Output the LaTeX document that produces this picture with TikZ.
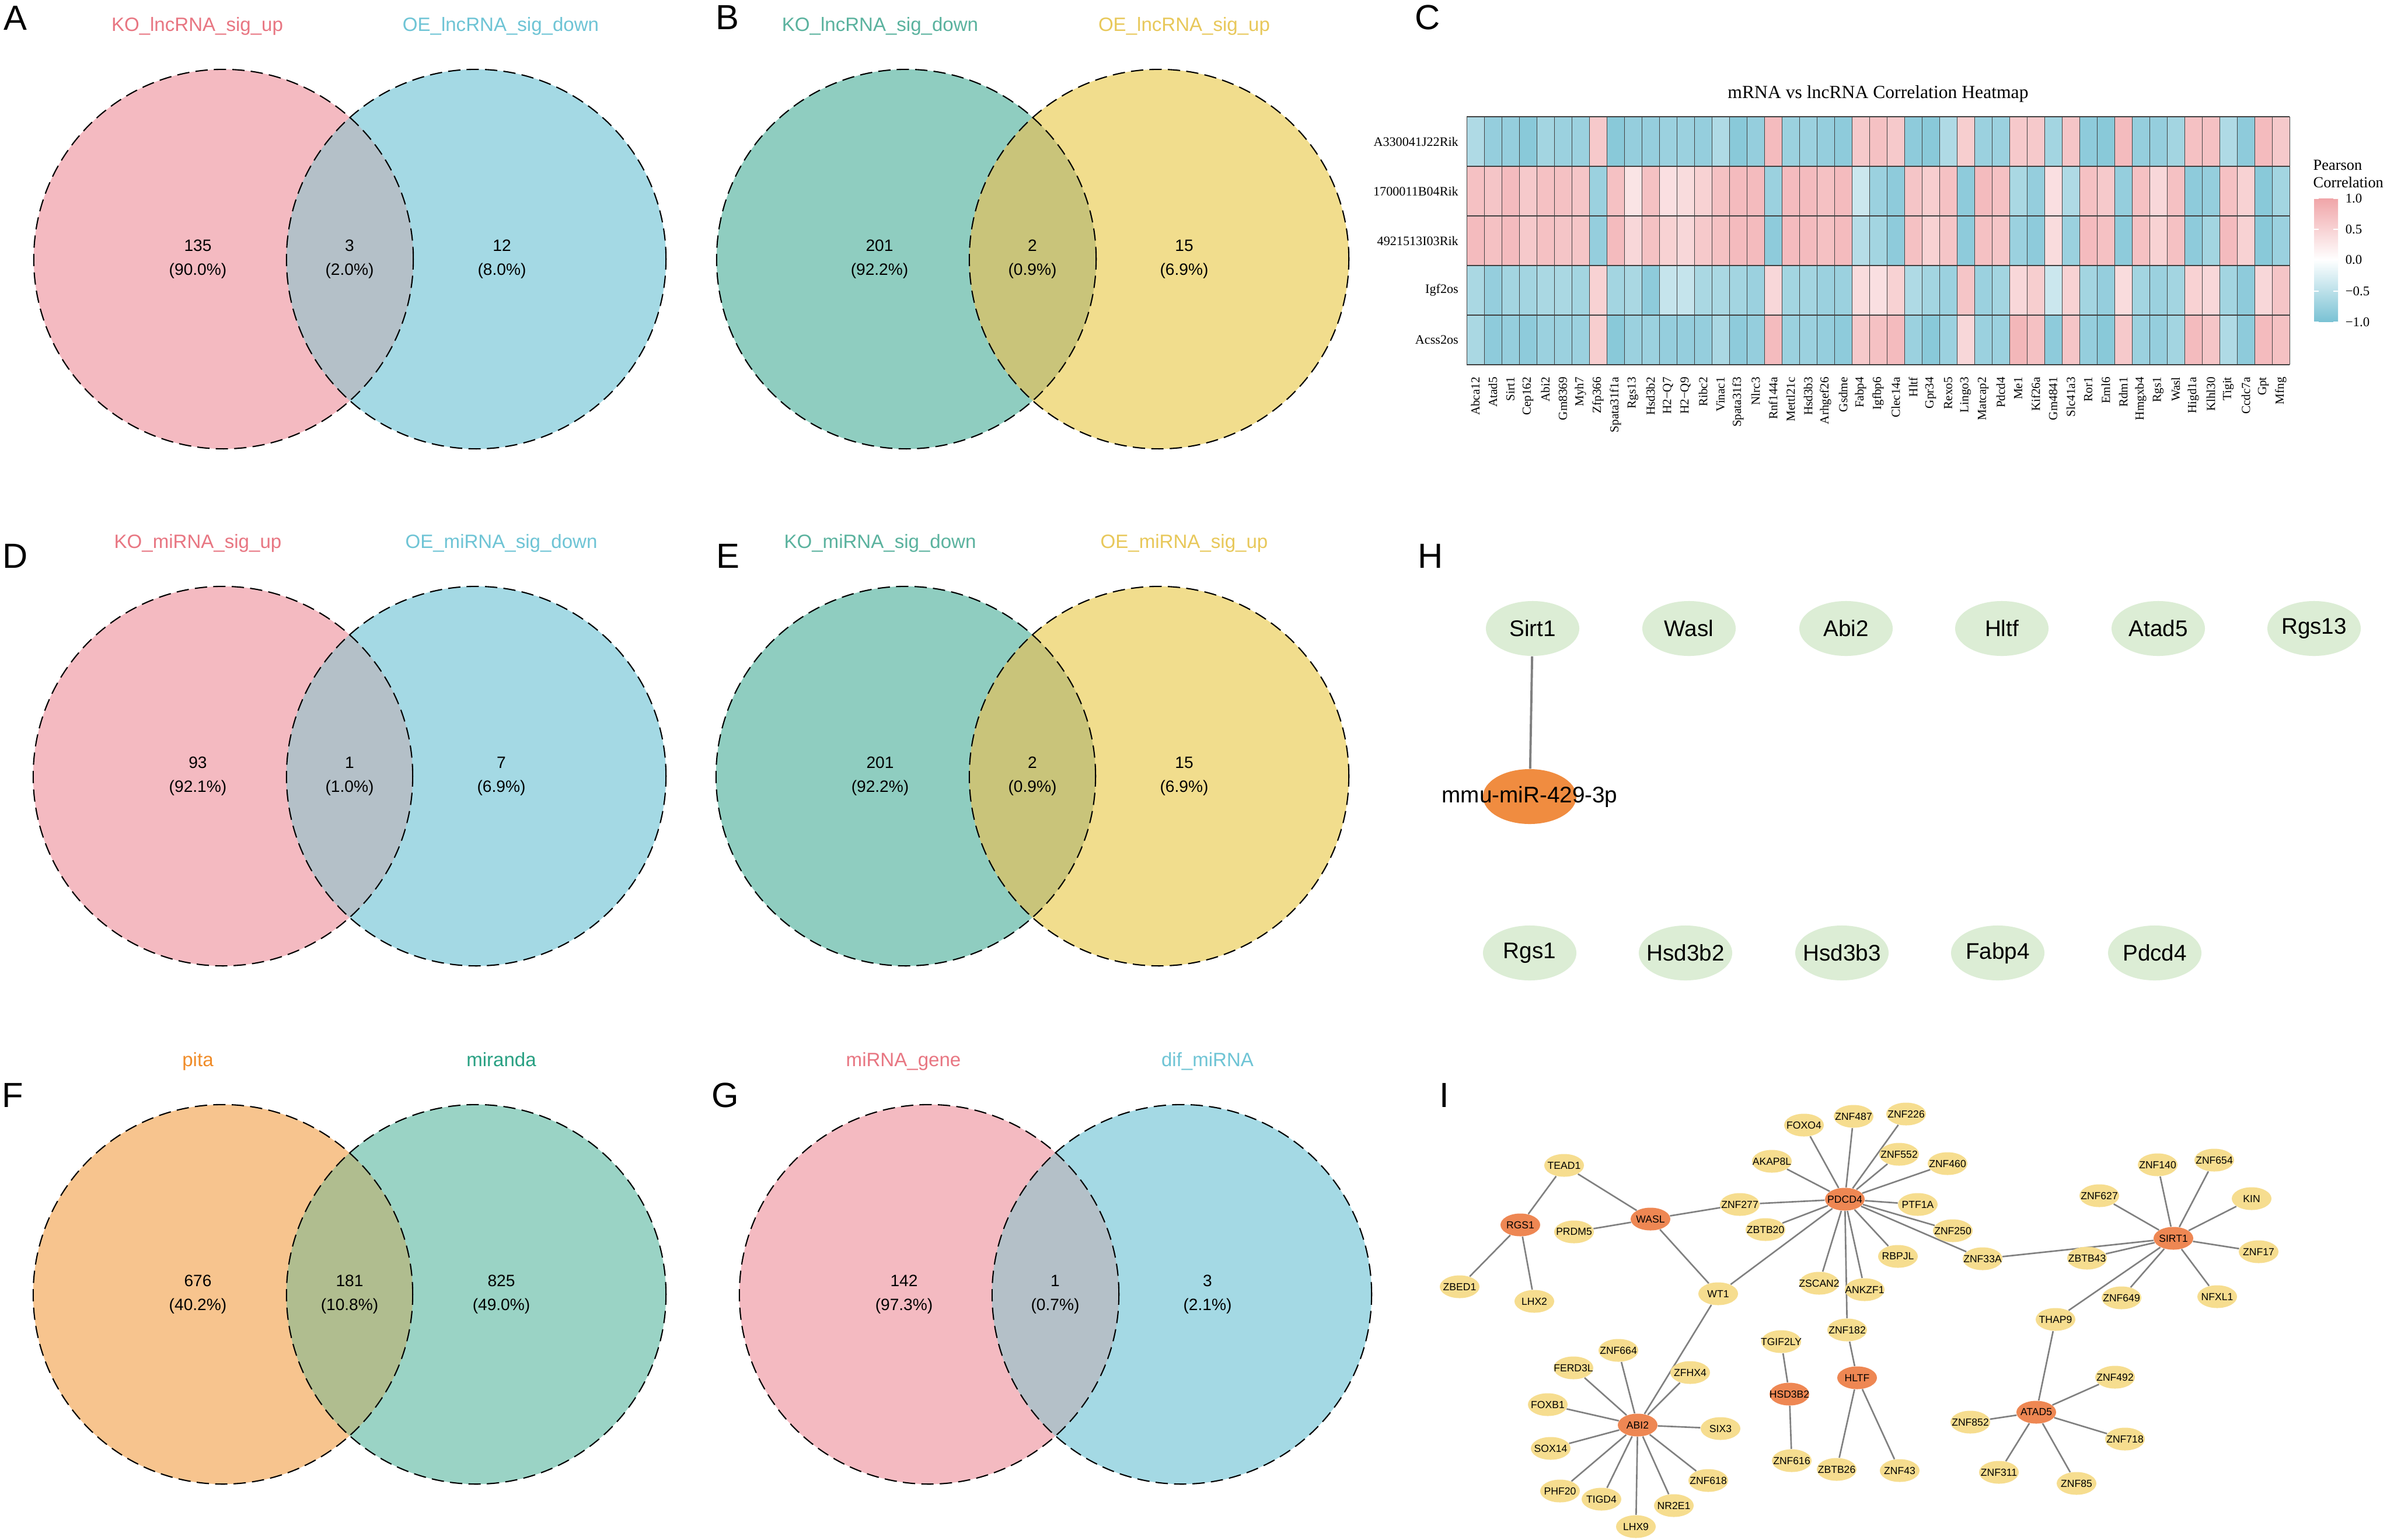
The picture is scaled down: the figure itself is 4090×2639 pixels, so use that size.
\documentclass[tikz,border=0pt]{standalone}
\usepackage{fontspec}
\setmainfont{Liberation Sans}
\newfontfamily\heatfont{Liberation Serif}
\usetikzlibrary{shapes.geometric, positioning}

% Venn 颜色
\definecolor{vpink}{RGB}{244,186,193}
\definecolor{vblue}{RGB}{164,217,228}
\definecolor{vgrey}{RGB}{180,192,200}
\definecolor{vteal}{RGB}{143,205,192}
\definecolor{vyel}{RGB}{241,221,141}
\definecolor{volive}{RGB}{201,196,122}
\definecolor{vorange}{RGB}{247,196,142}
\definecolor{vmint}{RGB}{154,211,197}
\definecolor{vsage}{RGB}{176,189,143}
\definecolor{lpink}{RGB}{232,118,130}
\definecolor{lblue}{RGB}{110,196,213}
\definecolor{lteal}{RGB}{90,178,158}
\definecolor{lyel}{RGB}{232,200,90}
\definecolor{lorange}{RGB}{240,140,40}
\definecolor{lmint}{RGB}{40,160,130}
% 热图颜色
\definecolor{hpos}{RGB}{240,165,168}
\definecolor{hneg}{RGB}{122,194,212}
% 网络颜色
\definecolor{hgreen}{RGB}{220,237,213}
\definecolor{horange}{RGB}{240,140,64}
\definecolor{iyellow}{RGB}{246,221,143}
\definecolor{iorange}{RGB}{238,135,83}
\definecolor{iedgecol}{RGB}{128,128,128}

\pgfdeclarelayer{background}
\pgfdeclarelayer{paper}
\pgfsetlayers{paper,background,main}

\begin{document}
\begin{tikzpicture}[
    x=0.01cm, y=-0.01cm,
    % 定义样式
    panel/.style={font=\fontsize{17}{20}\selectfont},
    setlab/.style={anchor=base, font=\fontsize{9.4}{11}\selectfont},
    vnum/.style={align=center, font=\fontsize{8}{11.7}\selectfont},
    vline/.style={draw=black, line width=0.6pt, dash pattern=on 6pt off 3pt},
    htitle/.style={font=\heatfont\fontsize{9}{11}\selectfont},
    rowlab/.style={anchor=east, font=\heatfont\fontsize{6.3}{7}\selectfont, inner sep=1pt},
    collab/.style={anchor=east, rotate=90, font=\heatfont\fontsize{6}{7}\selectfont, inner sep=1pt},
    legtitle/.style={anchor=north west, align=left, inner sep=0pt, font=\heatfont\fontsize{7.5}{8.3}\selectfont},
    ticklab/.style={anchor=west, inner sep=0pt, font=\heatfont\fontsize{6.5}{7}\selectfont},
    cellline/.style={draw=black!75, line width=0.3pt},
    rowline/.style={draw=black!75, line width=0.6pt},
    zerobox/.style={execute at begin node={\hbox to 0pt\bgroup\hss}, execute at end node={\hss\egroup}},
    hgene/.style={ellipse, fill=hgreen, minimum width=1.6cm, minimum height=0.94cm, inner sep=0pt, zerobox, font=\fontsize{11}{13}\selectfont},
    hmir/.style={ellipse, fill=horange, minimum width=1.6cm, minimum height=0.94cm, inner sep=0pt},
    hedge/.style={draw=iedgecol, line width=1.1pt},
    inode/.style={ellipse, fill=iyellow, minimum width=0.68cm, minimum height=0.39cm, inner sep=0pt, zerobox, font=\fontsize{5}{6}\selectfont},
    ihub/.style={inode, fill=iorange},
    iedge/.style={draw=iedgecol, line width=0.75pt}
]

\begin{pgfonlayer}{paper}
\fill [white] (0,0) rectangle (4090,2639);
\end{pgfonlayer}
\useasboundingbox (0,0) rectangle (4090,2639);

% --- A: lncRNA, KO 上调 / OE 下调 ---
\node [panel] (A) at (26,31) {A};
\fill [vpink] (383,444) circle [radius=3.25cm];
\fill [vblue] (816,444) circle [radius=3.25cm];
\begin{scope}
  \clip (383,444) circle [radius=3.25cm];
  \fill [vgrey] (816,444) circle [radius=3.25cm];
\end{scope}
\draw [vline] (383,444) circle [radius=3.25cm] (816,444) circle [radius=3.25cm];
\node [setlab, text=lpink] (A_left) at (338,53) {KO\_lncRNA\_sig\_up};
\node [setlab, text=lblue] (A_right) at (858,53) {OE\_lncRNA\_sig\_down};
\node [vnum] (A_n1) at (339,444) {135\\(90.0\%)};
\node [vnum] (A_n2) at (599,444) {3\\(2.0\%)};
\node [vnum] (A_n3) at (860,444) {12\\(8.0\%)};

% --- B: lncRNA, KO 下调 / OE 上调 ---
\node [panel] (B) at (1246,30) {B};
\fill [vteal] (1553,444) circle [radius=3.25cm];
\fill [vyel] (1986,444) circle [radius=3.25cm];
\begin{scope}
  \clip (1553,444) circle [radius=3.25cm];
  \fill [volive] (1986,444) circle [radius=3.25cm];
\end{scope}
\draw [vline] (1553,444) circle [radius=3.25cm] (1986,444) circle [radius=3.25cm];
\node [setlab, text=lteal] (B_left) at (1508,53) {KO\_lncRNA\_sig\_down};
\node [setlab, text=lyel] (B_right) at (2029,53) {OE\_lncRNA\_sig\_up};
\node [vnum] (B_n1) at (1507,444) {201\\(92.2\%)};
\node [vnum] (B_n2) at (1769,444) {2\\(0.9\%)};
\node [vnum] (B_n3) at (2029,444) {15\\(6.9\%)};

% --- D: miRNA, KO 上调 / OE 下调 ---
\node [panel] (D) at (26,953) {D};
\fill [vpink] (382,1330) circle [radius=3.25cm];
\fill [vblue] (816,1330) circle [radius=3.25cm];
\begin{scope}
  \clip (382,1330) circle [radius=3.25cm];
  \fill [vgrey] (816,1330) circle [radius=3.25cm];
\end{scope}
\draw [vline] (382,1330) circle [radius=3.25cm] (816,1330) circle [radius=3.25cm];
\node [setlab, text=lpink] (D_left) at (339,939) {KO\_miRNA\_sig\_up};
\node [setlab, text=lblue] (D_right) at (859,939) {OE\_miRNA\_sig\_down};
\node [vnum] (D_n1) at (339,1330) {93\\(92.1\%)};
\node [vnum] (D_n2) at (599,1330) {1\\(1.0\%)};
\node [vnum] (D_n3) at (859,1330) {7\\(6.9\%)};

% --- E: miRNA, KO 下调 / OE 上调 ---
\node [panel] (E) at (1247,953) {E};
\fill [vteal] (1552,1330) circle [radius=3.25cm];
\fill [vyel] (1986,1330) circle [radius=3.25cm];
\begin{scope}
  \clip (1552,1330) circle [radius=3.25cm];
  \fill [volive] (1986,1330) circle [radius=3.25cm];
\end{scope}
\draw [vline] (1552,1330) circle [radius=3.25cm] (1986,1330) circle [radius=3.25cm];
\node [setlab, text=lteal] (E_left) at (1508,939) {KO\_miRNA\_sig\_down};
\node [setlab, text=lyel] (E_right) at (2029,939) {OE\_miRNA\_sig\_up};
\node [vnum] (E_n1) at (1508,1330) {201\\(92.2\%)};
\node [vnum] (E_n2) at (1769,1330) {2\\(0.9\%)};
\node [vnum] (E_n3) at (2029,1330) {15\\(6.9\%)};

% --- F: pita / miranda ---
\node [panel] (F) at (22,1877) {F};
\fill [vorange] (382,2218) circle [radius=3.25cm];
\fill [vmint] (816,2218) circle [radius=3.25cm];
\begin{scope}
  \clip (382,2218) circle [radius=3.25cm];
  \fill [vsage] (816,2218) circle [radius=3.25cm];
\end{scope}
\draw [vline] (382,2218) circle [radius=3.25cm] (816,2218) circle [radius=3.25cm];
\node [setlab, text=lorange] (F_left) at (339,1827) {pita};
\node [setlab, text=lmint] (F_right) at (859,1827) {miranda};
\node [vnum] (F_n1) at (339,2218) {676\\(40.2\%)};
\node [vnum] (F_n2) at (599,2218) {181\\(10.8\%)};
\node [vnum] (F_n3) at (859,2218) {825\\(49.0\%)};

% --- G: miRNA_gene / dif_miRNA ---
\node [panel] (G) at (1243,1877) {G};
\fill [vpink] (1592,2218) circle [radius=3.25cm];
\fill [vblue] (2025,2218) circle [radius=3.25cm];
\begin{scope}
  \clip (1592,2218) circle [radius=3.25cm];
  \fill [vgrey] (2025,2218) circle [radius=3.25cm];
\end{scope}
\draw [vline] (1592,2218) circle [radius=3.25cm] (2025,2218) circle [radius=3.25cm];
\node [setlab, text=lpink] (G_left) at (1548,1827) {miRNA\_gene};
\node [setlab, text=lblue] (G_right) at (2069,1827) {dif\_miRNA};
\node [vnum] (G_n1) at (1549,2218) {142\\(97.3\%)};
\node [vnum] (G_n2) at (1808,2218) {1\\(0.7\%)};
\node [vnum] (G_n3) at (2069,2218) {3\\(2.1\%)};

% --- C: 相关性热图 ---
\node [panel] (C) at (2446,30) {C};
\node [htitle] (htitle) at (3218,161) {mRNA vs lncRNA Correlation Heatmap};
\foreach \vals [count=\r] in {
  {-0.6,-0.8,-0.8,-0.9,-0.7,-0.75,-0.75,0.6,-0.9,-0.8,-0.8,-0.75,-0.75,-0.8,-0.6,-0.9,-0.8,0.75,-0.75,-0.75,-0.8,-0.85,0.6,0.7,0.6,-0.85,-0.9,-0.6,0.55,-0.75,-0.75,0.6,0.6,-0.7,0.65,-0.85,-0.9,0.75,-0.8,-0.8,-0.7,0.7,0.7,-0.6,-0.85,0.75,0.6},
  {0.7,0.65,0.75,0.6,0.7,0.7,0.65,-0.75,0.7,0.3,0.7,0.35,0.4,0.5,0.7,0.75,0.75,-0.75,0.75,0.75,0.7,0.75,-0.4,-0.75,-0.85,0.65,0.55,0.7,-0.85,0.75,0.7,-0.65,-0.8,0.35,-0.6,0.7,0.6,-0.8,0.7,0.45,0.7,-0.85,-0.8,0.7,0.5,-0.9,-0.7},
  {0.75,0.7,0.75,0.6,0.7,0.65,0.65,-0.8,0.75,0.45,0.7,0.5,0.45,0.6,0.7,0.75,0.75,-0.85,0.75,0.75,0.7,0.75,-0.55,-0.7,-0.85,0.7,0.5,0.65,-0.85,0.7,0.65,-0.75,-0.85,0.4,-0.75,0.75,0.7,-0.85,0.7,0.5,0.7,-0.85,-0.7,0.75,0.5,-0.9,-0.75},
  {-0.65,-0.8,-0.7,-0.7,-0.65,-0.65,-0.7,0.5,-0.7,-0.65,-0.85,-0.45,-0.45,-0.65,-0.65,-0.7,-0.75,0.45,-0.7,-0.7,-0.75,-0.75,0.4,0.35,0.5,-0.6,-0.7,-0.75,0.65,-0.75,-0.7,0.45,0.55,-0.4,0.5,-0.7,-0.8,0.4,-0.7,-0.75,-0.7,0.5,0.45,-0.7,-0.85,0.45,0.65},
  {-0.65,-0.85,-0.8,-0.85,-0.75,-0.75,-0.75,0.55,-0.9,-0.75,-0.75,-0.8,-0.8,-0.8,-0.65,-0.85,-0.8,0.75,-0.75,-0.75,-0.8,-0.85,0.6,0.7,0.75,-0.75,-0.9,-0.75,0.45,-0.75,-0.75,0.8,0.7,-0.85,0.65,-0.8,-0.9,0.6,-0.75,-0.8,-0.7,0.75,0.65,-0.6,-0.85,0.75,0.7}}{
  \foreach \v [count=\c] in \vals {
    \pgfmathtruncatemacro\pc{abs(\v)*100}
    \ifdim \v pt>0pt \def\hc{hpos}\else\def\hc{hneg}\fi
    \fill [\hc!\pc!white] ({2483+\c*30},{115+\r*85}) rectangle ++(30,85);
  }
}
\foreach \c in {0,...,47} \draw [cellline] ({2513+\c*30},200) -- ++(0,425);
\foreach \r in {0,...,5} \draw [rowline] (2513,{200+\r*85}) -- ++(1410,0);

% 行、列标签
\foreach \g [count=\r] in {A330041J22Rik,1700011B04Rik,4921513I03Rik,Igf2os,Acss2os}
  \node [rowlab] (row\r) at (2503,{157.5+\r*85}) {\g};
\foreach \g [count=\c] in {Abca12,Atad5,Sirt1,Cep162,Abi2,Gm8369,Myh7,Zfp366,Spata31f1a,Rgs13,Hsd3b2,H2−Q7,H2−Q9,Ribc2,Vinac1,Spata31f3,Nlrc3,Rnf144a,Mettl21c,Hsd3b3,Arhgef26,Gsdme,Fabp4,Igfbp6,Clec14a,Hltf,Gpr34,Rexo5,Lingo3,Matcap2,Pdcd4,Me1,Kif26a,Gm4841,Slc41a3,Ror1,Eml6,Rdm1,Hmgxb4,Rgs1,Wasl,Higd1a,Klhl30,Tigit,Ccdc7a,Gpt,Mfng}
  \node [collab] (col\c) at ({2498+\c*30},642) {\g};

% 图例
\node [legtitle] (legtitle) at (3963,274) {Pearson\\Correlation};
\shade [top color=hpos, bottom color=white] (3965,340) rectangle (4006,445);
\shade [top color=white, bottom color=hneg] (3965,445) rectangle (4006,551);
\foreach \t/\lab [count=\k] in {340/1.0, 393/0.5, 445/0.0, 499/−0.5, 552/−1.0}{
  \draw [white, line width=0.6pt] (3965,\t) -- ++(8,0) (3998,\t) -- ++(8,0);
  \node [ticklab] (tick\k) at (4018,\t) {\lab};
}

% --- H: miRNA-mRNA 网络 ---
\node [panel] (H) at (2451,953) {H};
\node [hgene] (hsirt) at (2626,1077) {Sirt1};
\node [hgene] (hwasl) at (2894,1077) {Wasl};
\node [hgene] (habi) at (3163,1077) {Abi2};
\node [hgene] (hhltf) at (3430,1077) {Hltf};
\node [hgene] (hatad) at (3698,1077) {Atad5};
\node [hgene] (hrgs13) at (3965,1077) {Rgs13};
\node [hgene] (hrgs1) at (2621,1633) {Rgs1};
\node [hgene] (hhsd2) at (2888,1633) {Hsd3b2};
\node [hgene] (hhsd3) at (3156,1633) {Hsd3b3};
\node [hgene] (hfabp) at (3423,1633) {Fabp4};
\node [hgene] (hpdcd) at (3692,1633) {Pdcd4};
\node [hmir, label={[font=\fontsize{11}{13}\selectfont]center:mmu-miR-429-3p}] (hmir) at (2621,1365) {};
\begin{pgfonlayer}{background}
\draw [hedge] (hsirt) -- (hmir);
\end{pgfonlayer}

% --- I: 转录因子网络 ---
\node [panel] (I) at (2475,1877) {I};
\foreach \n/\x/\y/\t in {rgs1/2605/2099/RGS1, wasl/2828/2089/WASL, pdcd4/3161/2055/PDCD4,
    hltf/3182/2361/HLTF, hsd3b2/3066/2389/HSD3B2, abi2/2806/2442/ABI2,
    sirt1/3724/2122/SIRT1, atad5/3489/2420/ATAD5}
  \node [ihub] (\n) at (\x,\y) {\t};
\foreach \n/\x/\y/\t in {tead1/2680/1997/TEAD1, prdm5/2697/2111/PRDM5, znf277/2981/2064/ZNF277,
    zbtb20/3025/2107/ZBTB20, akap8l/3036/1990/AKAP8L, foxo4/3091/1928/FOXO4,
    znf487/3176/1913/ZNF487, znf226/3266/1909/ZNF226, znf552/3254/1978/ZNF552,
    znf460/3337/1994/ZNF460, ptf1a/3286/2064/PTF1A, znf250/3346/2109/ZNF250,
    rbpjl/3252/2153/RBPJL, znf33a/3397/2157/ZNF33A, zbed1/2501/2205/ZBED1,
    lhx2/2629/2230/LHX2, wt1/2944/2217/WT1, zscan2/3117/2199/ZSCAN2,
    ankzf1/3195/2210/ANKZF1, znf182/3165/2279/ZNF182, tgif2ly/3052/2299/TGIF2LY,
    znf616/3070/2503/ZNF616, zbtb26/3147/2518/ZBTB26, znf43/3255/2520/ZNF43,
    znf664/2773/2314/ZNF664, ferd3l/2696/2344/FERD3L, zfhx4/2896/2352/ZFHX4,
    foxb1/2652/2407/FOXB1, six3/2948/2448/SIX3, sox14/2657/2482/SOX14,
    phf20/2673/2555/PHF20, tigd4/2744/2569/TIGD4, lhx9/2803/2616/LHX9,
    nr2e1/2868/2580/NR2E1, znf618/2927/2537/ZNF618, zbtb43/3576/2156/ZBTB43,
    znf627/3597/2049/ZNF627, znf140/3697/1996/ZNF140, znf654/3794/1988/ZNF654,
    kin/3858/2054/KIN, znf17/3870/2145/ZNF17, nfxl1/3799/2222/NFXL1,
    znf649/3635/2224/ZNF649, thap9/3522/2261/THAP9, znf492/3624/2360/ZNF492,
    znf852/3376/2437/ZNF852, znf718/3641/2466/ZNF718, znf311/3425/2523/ZNF311,
    znf85/3558/2542/ZNF85}
  \node [inode] (\n) at (\x,\y) {\t};

\begin{pgfonlayer}{background}
\foreach \a/\b in {rgs1/tead1, rgs1/zbed1, rgs1/lhx2, tead1/wasl, wasl/prdm5, wasl/znf277,
    wasl/wt1, znf277/pdcd4, pdcd4/akap8l, pdcd4/foxo4, pdcd4/znf487, pdcd4/znf226,
    pdcd4/znf552, pdcd4/znf460, pdcd4/ptf1a, pdcd4/znf250, pdcd4/znf33a, pdcd4/rbpjl,
    pdcd4/ankzf1, pdcd4/znf182, pdcd4/zscan2, pdcd4/zbtb20, pdcd4/wt1, znf182/hltf,
    hltf/zbtb26, hltf/znf43, tgif2ly/hsd3b2, hsd3b2/znf616, wt1/abi2, abi2/znf664,
    abi2/ferd3l, abi2/foxb1, abi2/sox14, abi2/phf20, abi2/tigd4, abi2/lhx9, abi2/nr2e1,
    abi2/znf618, abi2/six3, abi2/zfhx4, znf33a/sirt1, sirt1/zbtb43, sirt1/znf627,
    sirt1/znf140, sirt1/znf654, sirt1/kin, sirt1/znf17, sirt1/nfxl1, sirt1/znf649,
    sirt1/thap9, thap9/atad5, atad5/znf492, atad5/znf852, atad5/znf718, atad5/znf311,
    atad5/znf85}
  \draw [iedge] (\a) -- (\b);
\end{pgfonlayer}

\end{tikzpicture}
\end{document}
